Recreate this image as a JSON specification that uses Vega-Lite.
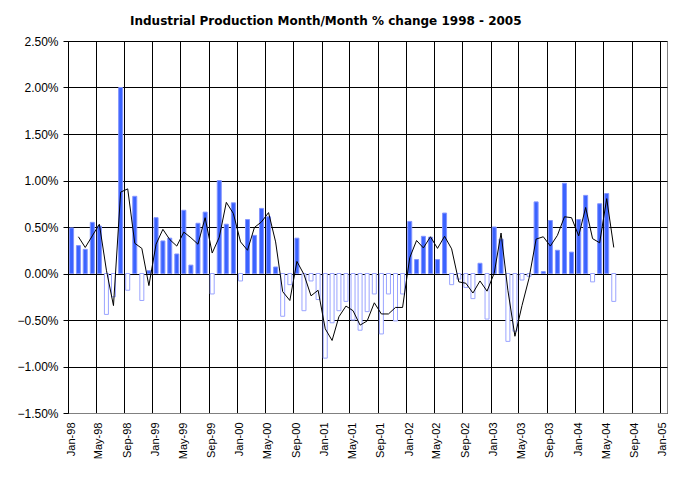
{
  "$schema": "https://vega.github.io/schema/vega-lite/v6.json",
  "description": "Industrial Production Month/Month % change 1998 - 2005",
  "width": 599,
  "height": 372,
  "autosize": {"type": "none"},
  "padding": {"left": 68, "top": 41, "right": 27, "bottom": 71},
  "background": "white",
  "title": {
    "text": "Industrial Production Month/Month % change 1998 - 2005",
    "font": "DejaVu Sans",
    "fontSize": 12,
    "fontWeight": "bold",
    "color": "black",
    "anchor": "start",
    "frame": "group",
    "dx": 62,
    "offset": 7
  },
  "data": {
    "values": [
      {"month": "1998-01-01", "change": 0.0049},
      {"month": "1998-02-01", "change": 0.0030, "avg": 0.00395},
      {"month": "1998-03-01", "change": 0.0026, "avg": 0.0028},
      {"month": "1998-04-01", "change": 0.0055, "avg": 0.00405},
      {"month": "1998-05-01", "change": 0.0051, "avg": 0.0053},
      {"month": "1998-06-01", "change": -0.0044, "avg": 0.00035},
      {"month": "1998-07-01", "change": -0.0025, "avg": -0.00345},
      {"month": "1998-08-01", "change": 0.0200, "avg": 0.00875},
      {"month": "1998-09-01", "change": -0.0018, "avg": 0.0091},
      {"month": "1998-10-01", "change": 0.0083, "avg": 0.00325},
      {"month": "1998-11-01", "change": -0.0029, "avg": 0.0027},
      {"month": "1998-12-01", "change": 0.0003, "avg": -0.0013},
      {"month": "1999-01-01", "change": 0.0060, "avg": 0.00315},
      {"month": "1999-02-01", "change": 0.0035, "avg": 0.00475},
      {"month": "1999-03-01", "change": 0.0038, "avg": 0.00365},
      {"month": "1999-04-01", "change": 0.0021, "avg": 0.00295},
      {"month": "1999-05-01", "change": 0.0068, "avg": 0.00445},
      {"month": "1999-06-01", "change": 0.0009, "avg": 0.00385},
      {"month": "1999-07-01", "change": 0.0054, "avg": 0.00315},
      {"month": "1999-08-01", "change": 0.0066, "avg": 0.0060},
      {"month": "1999-09-01", "change": -0.0022, "avg": 0.0022},
      {"month": "1999-10-01", "change": 0.0100, "avg": 0.0039},
      {"month": "1999-11-01", "change": 0.0053, "avg": 0.00765},
      {"month": "1999-12-01", "change": 0.0076, "avg": 0.00645},
      {"month": "2000-01-01", "change": -0.0008, "avg": 0.0034},
      {"month": "2000-02-01", "change": 0.0058, "avg": 0.0025},
      {"month": "2000-03-01", "change": 0.0041, "avg": 0.00495},
      {"month": "2000-04-01", "change": 0.0070, "avg": 0.00555},
      {"month": "2000-05-01", "change": 0.0061, "avg": 0.00655},
      {"month": "2000-06-01", "change": 0.0007, "avg": 0.0034},
      {"month": "2000-07-01", "change": -0.0046, "avg": -0.00195},
      {"month": "2000-08-01", "change": -0.0012, "avg": -0.0029},
      {"month": "2000-09-01", "change": 0.0038, "avg": 0.0013},
      {"month": "2000-10-01", "change": -0.0040, "avg": -0.0001},
      {"month": "2000-11-01", "change": -0.0008, "avg": -0.0024},
      {"month": "2000-12-01", "change": -0.0028, "avg": -0.0018},
      {"month": "2001-01-01", "change": -0.0091, "avg": -0.00595},
      {"month": "2001-02-01", "change": -0.0053, "avg": -0.0072},
      {"month": "2001-03-01", "change": -0.0040, "avg": -0.00465},
      {"month": "2001-04-01", "change": -0.0030, "avg": -0.0035},
      {"month": "2001-05-01", "change": -0.0050, "avg": -0.0040},
      {"month": "2001-06-01", "change": -0.0061, "avg": -0.00555},
      {"month": "2001-07-01", "change": -0.0041, "avg": -0.0051},
      {"month": "2001-08-01", "change": -0.0022, "avg": -0.00315},
      {"month": "2001-09-01", "change": -0.0065, "avg": -0.00435},
      {"month": "2001-10-01", "change": -0.0022, "avg": -0.00435},
      {"month": "2001-11-01", "change": -0.0051, "avg": -0.00365},
      {"month": "2001-12-01", "change": -0.0022, "avg": -0.00365},
      {"month": "2002-01-01", "change": 0.0056, "avg": 0.0017},
      {"month": "2002-02-01", "change": 0.0015, "avg": 0.00355},
      {"month": "2002-03-01", "change": 0.0040, "avg": 0.00275},
      {"month": "2002-04-01", "change": 0.0039, "avg": 0.00395},
      {"month": "2002-05-01", "change": 0.0015, "avg": 0.0027},
      {"month": "2002-06-01", "change": 0.0065, "avg": 0.0040},
      {"month": "2002-07-01", "change": -0.0012, "avg": 0.00265},
      {"month": "2002-08-01", "change": -0.0006, "avg": -0.0009},
      {"month": "2002-09-01", "change": -0.0015, "avg": -0.00105},
      {"month": "2002-10-01", "change": -0.0027, "avg": -0.0021},
      {"month": "2002-11-01", "change": 0.0011, "avg": -0.0008},
      {"month": "2002-12-01", "change": -0.0049, "avg": -0.0019},
      {"month": "2003-01-01", "change": 0.0050, "avg": 0.00005},
      {"month": "2003-02-01", "change": 0.0037, "avg": 0.00435},
      {"month": "2003-03-01", "change": -0.0073, "avg": -0.0018},
      {"month": "2003-04-01", "change": -0.0062, "avg": -0.00675},
      {"month": "2003-05-01", "change": -0.0007, "avg": -0.00345},
      {"month": "2003-06-01", "change": -0.0003, "avg": -0.0005},
      {"month": "2003-07-01", "change": 0.0077, "avg": 0.0037},
      {"month": "2003-08-01", "change": 0.0002, "avg": 0.00395},
      {"month": "2003-09-01", "change": 0.0057, "avg": 0.00295},
      {"month": "2003-10-01", "change": 0.0025, "avg": 0.0041},
      {"month": "2003-11-01", "change": 0.0097, "avg": 0.0061},
      {"month": "2003-12-01", "change": 0.0023, "avg": 0.0060},
      {"month": "2004-01-01", "change": 0.0058, "avg": 0.00405},
      {"month": "2004-02-01", "change": 0.0084, "avg": 0.0071},
      {"month": "2004-03-01", "change": -0.0009, "avg": 0.00375},
      {"month": "2004-04-01", "change": 0.0075, "avg": 0.0033},
      {"month": "2004-05-01", "change": 0.0086, "avg": 0.00805},
      {"month": "2004-06-01", "change": -0.0030, "avg": 0.0028}
    ]
  },
  "encoding": {
    "x": {
      "field": "month",
      "type": "temporal",
      "timeUnit": "utcyearmonth",
      "bandPosition": 0.5,
      "title": null,
      "scale": {
        "type": "utc",
        "domain": [
          {"year": 1998, "month": 1, "date": 1, "utc": true},
          {"year": 2005, "month": 2, "date": 1, "utc": true}
        ]
      },
      "axis": {
        "format": "%b-%y",
        "tickCount": {"interval": "month", "step": 4},
        "grid": true,
        "gridColor": "black",
        "gridOpacity": 1,
        "ticks": false,
        "domainColor": "#808080",
        "labelAngle": 270,
        "labelFont": "Liberation Sans",
        "labelFontSize": 11,
        "labelColor": "black",
        "labelPadding": 9,
        "labelOffset": 3,
        "labelOverlap": false,
        "labelFlush": false
      }
    }
  },
  "layer": [
    {
      "mark": {"type": "bar", "width": 4, "strokeWidth": 1},
      "encoding": {
        "y": {
          "field": "change",
          "type": "quantitative",
          "title": null,
          "scale": {"domain": [-0.015, 0.025], "nice": false, "zero": false},
          "axis": {
            "values": [-0.015, -0.01, -0.005, 0, 0.005, 0.01, 0.015, 0.02, 0.025],
            "format": ".2%",
            "grid": true,
            "gridColor": "black",
            "gridOpacity": 1,
            "tickColor": "black",
            "tickSize": 5,
            "domainColor": "black",
            "labelFont": "Liberation Sans",
            "labelFontSize": 12,
            "labelColor": "black",
            "labelPadding": 5
          }
        },
        "fill": {
          "condition": {"test": "datum.change < 0", "value": "white"},
          "value": "#3a63ff"
        },
        "stroke": {
          "condition": {"test": "datum.change < 0", "value": "#9aa4ff"},
          "value": "#8494ff"
        }
      }
    },
    {
      "mark": {"type": "line", "color": "black", "strokeWidth": 1},
      "encoding": {
        "y": {"field": "avg", "type": "quantitative", "title": null}
      }
    }
  ],
  "config": {
    "view": {"stroke": "#808080", "strokeWidth": 1}
  }
}
